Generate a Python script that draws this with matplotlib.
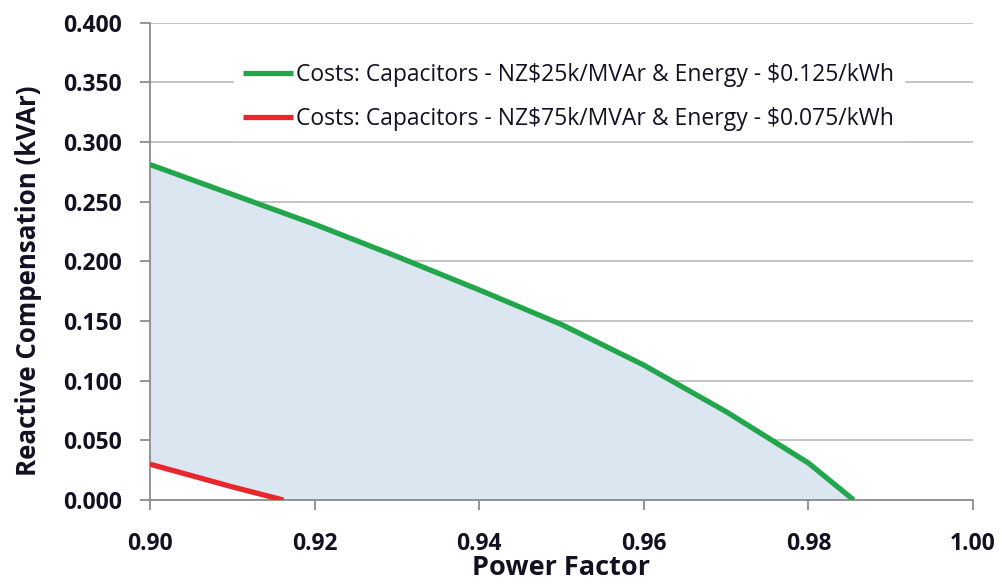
import numpy as np
import matplotlib
matplotlib.use("Agg")
import matplotlib.pyplot as plt

# Power factor vs. economically justified reactive compensation
pf_green = [0.90, 0.91, 0.92, 0.93, 0.94, 0.95, 0.96, 0.97, 0.98, 0.9855]
kvar_green = [0.281, 0.256, 0.231, 0.204, 0.176, 0.147, 0.113, 0.074, 0.031, 0.000]

pf_red = [0.90, 0.91, 0.9162]
kvar_red = [0.030, 0.011, 0.000]

label_green = r"Costs: Capacitors - NZ\$25k/MVAr & Energy - \$0.125/kWh"
label_red = r"Costs: Capacitors - NZ\$75k/MVAr & Energy - \$0.075/kWh"

x_ticks = [0.90, 0.92, 0.94, 0.96, 0.98, 1.00]
y_ticks = [0.000, 0.050, 0.100, 0.150, 0.200, 0.250, 0.300, 0.350, 0.400]

plt.rcParams["font.family"] = ["Open Sans", "DejaVu Sans"]
text_c = "#111122"
plt.rcParams["text.color"] = text_c
plt.rcParams["axes.labelcolor"] = text_c
plt.rcParams["xtick.labelcolor"] = text_c
plt.rcParams["ytick.labelcolor"] = text_c

fig = plt.figure(figsize=(10.03, 5.84), dpi=100)
ax = fig.add_axes([150 / 1003, 84 / 584, 823 / 1003, 477.5 / 584])

grid_c = "#bfbfbf"
axis_c = "#8c8c8c"

# shaded band between the two cost curves
xf = np.union1d(pf_green, pf_red)
upper = np.interp(xf, pf_green, kvar_green)
lower = np.interp(xf, pf_red, kvar_red, right=0.0)
ax.fill_between(xf, lower, upper, color="#dce6f1", lw=0, zorder=1)

ax.plot(pf_green, kvar_green, color="#21a64b", lw=3.8, label=label_green,
        solid_capstyle="butt", zorder=3)
ax.plot(pf_red, kvar_red, color="#e8262b", lw=3.8, label=label_red,
        solid_capstyle="butt", zorder=3)

ax.set_xlim(0.90, 1.00)
ax.set_ylim(0.0, 0.4)
ax.set_xticks(x_ticks)
ax.set_yticks(y_ticks)
ax.set_xticklabels([f"{v:.2f}" for v in x_ticks])
ax.set_yticklabels([f"{v:.3f}" for v in y_ticks])

ax.yaxis.grid(True, color=grid_c, lw=1.3, zorder=0)
ax.set_axisbelow(True)
for s in ("top", "right"):
    ax.spines[s].set_visible(False)
for s in ("left", "bottom"):
    ax.spines[s].set_color(axis_c)
    ax.spines[s].set_linewidth(1.3)

ax.tick_params(axis="both", direction="out", color=axis_c, width=1.3,
               length=7, labelsize=16.5)
ax.tick_params(axis="y", pad=13)
ax.tick_params(axis="x", pad=16)
for lab in ax.get_xticklabels() + ax.get_yticklabels():
    lab.set_fontweight("bold")

ax.set_xlabel("Power Factor", fontsize=19.5, fontweight="bold")
ax.xaxis.label.set_va("baseline")
ax.xaxis.set_label_coords(0.5, -0.158)

ax.set_ylabel("Reactive Compensation (kVAr)", fontsize=18.6, fontweight="bold")
ax.yaxis.label.set_va("center")
ax.yaxis.set_label_coords(-0.148, 0.46)

leg = ax.legend(loc="upper left", bbox_to_anchor=(0.088, 0.958), frameon=True,
                fontsize=16.5, handlelength=2.2, handletextpad=0.13,
                labelspacing=0.85, borderpad=0.4, fancybox=False)
leg.get_frame().set_facecolor("white")
leg.get_frame().set_edgecolor("white")
leg.get_frame().set_alpha(1.0)
leg.set_zorder(4)

fig.savefig("out.png", dpi=100)
